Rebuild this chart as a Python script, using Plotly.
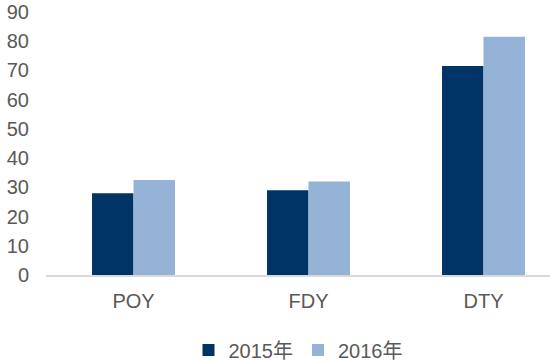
import plotly.graph_objects as go

categories = ["POY", "FDY", "DTY"]
series_2015 = [28, 29, 71.5]
series_2016 = [32.5, 32, 81.5]
y_ticks = [0, 10, 20, 30, 40, 50, 60, 70, 80, 90]

font_family = "Liberation Sans, Arial, Noto Sans CJK SC, sans-serif"

fig = go.Figure()
fig.add_trace(go.Bar(name="2015年", x=categories, y=series_2015,
                     marker=dict(color="#003366", line=dict(width=0))))
fig.add_trace(go.Bar(name="2016年", x=categories, y=series_2016,
                     marker=dict(color="#95B3D7", line=dict(width=0))))

fig.update_layout(
    width=550, height=361,
    margin=dict(l=46, r=0, t=12, b=86, autoexpand=False),
    paper_bgcolor="white", plot_bgcolor="white",
    barmode="group", bargap=0.526, bargroupgap=0,
    font=dict(family=font_family, size=20, color="#595959"),
    showlegend=True,
    legend=dict(orientation="h", x=0.5, xanchor="center", y=-0.285, yanchor="middle",
                font=dict(size=20, color="#595959"), itemwidth=30, traceorder="normal"),
)
fig.update_xaxes(range=[-0.5, 2.38], showline=True, linecolor="#d9d9d9", linewidth=2,
                 showgrid=False, ticks="", ticklabelstandoff=7, fixedrange=True,
                 automargin=False)
fig.update_yaxes(range=[0, 90], tickvals=y_ticks, showgrid=False, zeroline=False,
                 showline=False, ticks="", ticklabelstandoff=16, fixedrange=True,
                 automargin=False)

fig.write_html("out.html", config={"displayModeBar": False},
               post_script="document.body.style.margin='0';document.body.style.overflow='hidden';")
